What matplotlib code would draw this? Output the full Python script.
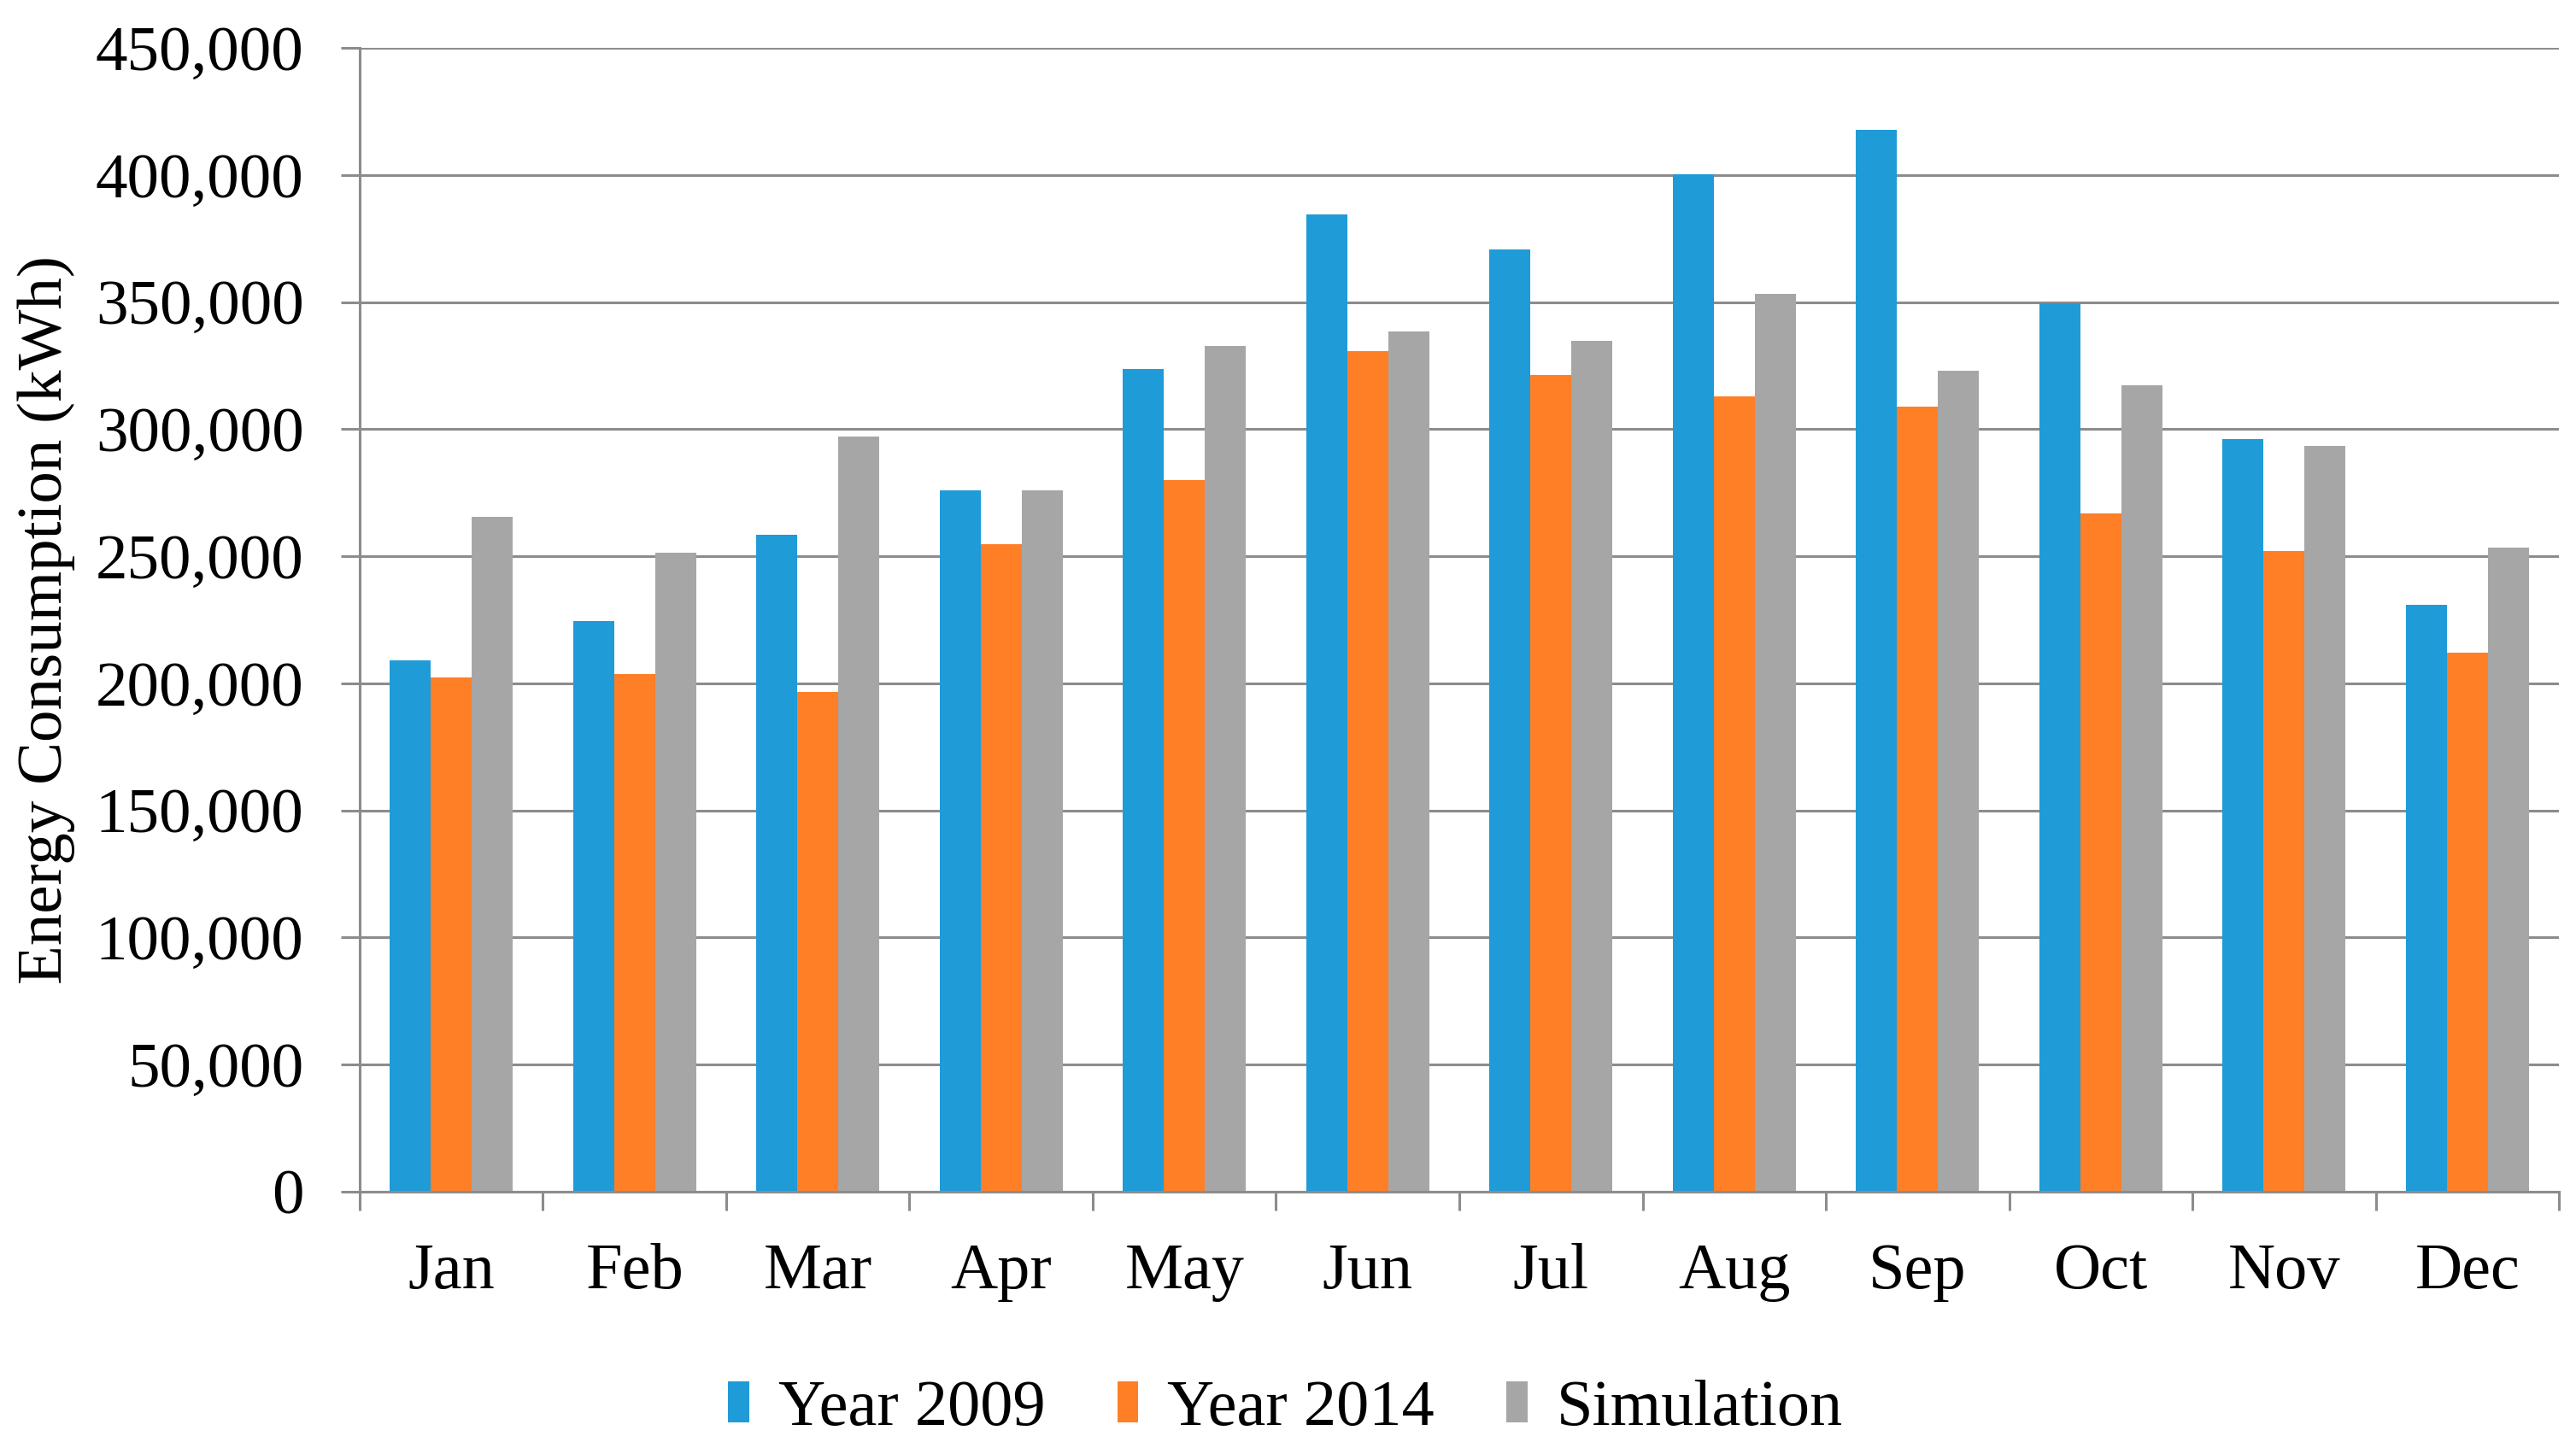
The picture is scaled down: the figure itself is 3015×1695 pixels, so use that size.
import numpy as np
import matplotlib.pyplot as plt
from matplotlib.ticker import FuncFormatter, MultipleLocator

months = ["Jan", "Feb", "Mar", "Apr", "May", "Jun", "Jul", "Aug", "Sep", "Oct", "Nov", "Dec"]
year_2009 = [208900, 224400, 258500, 275900, 323600, 384300, 370700, 400400, 417800, 349400, 295900, 230800]
year_2014 = [202400, 203700, 196600, 254700, 279800, 330700, 321100, 312700, 308800, 266900, 252100, 212100]
simulation = [265600, 251400, 297200, 276000, 332700, 338500, 334600, 353300, 323000, 317200, 293300, 253400]

series = [("Year 2009", year_2009, "#1F9BD7"),
          ("Year 2014", year_2014, "#FF7F27"),
          ("Simulation", simulation, "#A6A6A6")]

plt.rcParams['font.family'] = ['Liberation Serif', 'DejaVu Serif']
axis_grey = "#8C8C8C"

fig = plt.figure(figsize=(30.15, 16.95), dpi=100)
ax = fig.add_axes([0.1396, 0.177, 0.8538, 0.790])

x = np.arange(len(months))
width = 0.224
for i, (name, vals, col) in enumerate(series):
    ax.bar(x + (i - 1) * width, vals, width, color=col, label=name, zorder=3)

ax.set_xlim(-0.5, len(months) - 0.5)
ax.set_ylim(0, 450000)
ax.yaxis.set_major_locator(MultipleLocator(50000))
ax.yaxis.set_major_formatter(FuncFormatter(lambda v, p: f"{int(v):,}"))
ax.grid(axis="y", color=axis_grey, linewidth=2.2, zorder=0)

# month labels at centres, tick marks between months
ax.set_xticks(x)
ax.set_xticklabels(months)
ax.set_xticks(np.arange(-0.5, len(months)), minor=True)
ax.tick_params(axis="x", which="major", length=0, pad=43, labelsize=55)
ax.tick_params(axis="x", which="minor", length=16, width=2.2, color=axis_grey)
ax.tick_params(axis="y", length=16, width=2.2, color=axis_grey, labelsize=54, pad=31)

for side in ["top", "right"]:
    ax.spines[side].set_visible(False)
for side in ["left", "bottom"]:
    ax.spines[side].set_color(axis_grey)
    ax.spines[side].set_linewidth(2.2)
    ax.spines[side].set_zorder(4)

ax.set_ylabel("Energy Consumption (kWh)", fontsize=54)
ax.yaxis.set_label_coords(-0.1294, 0.5)

ax.legend(loc="upper center", bbox_to_anchor=(0.421, -0.113), ncol=3, frameon=False,
          fontsize=55, handlelength=0.32, handleheight=0.6, handletextpad=0.45,
          columnspacing=1.1)

fig.savefig("out.png", dpi=100)
